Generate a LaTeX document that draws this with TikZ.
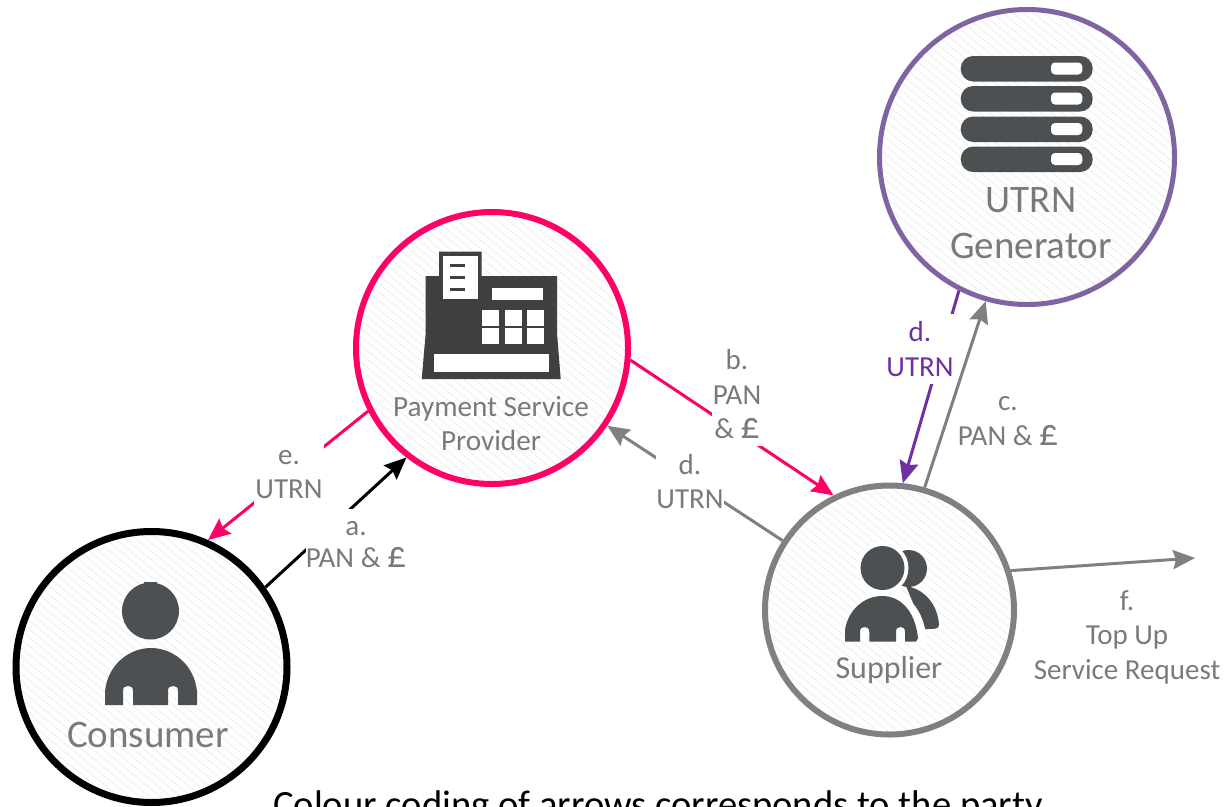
\documentclass[tikz,border=0pt]{standalone}
\usepackage{fontspec}
\setmainfont{Carlito}[Numbers=Lining]
\usetikzlibrary{arrows.meta}
\definecolor{txtgray}{HTML}{7A7A7A}
\definecolor{icongray}{HTML}{4D5052}
\definecolor{tillgray}{HTML}{404040}
\definecolor{linegray}{HTML}{808080}
\definecolor{pspink}{HTML}{FF0066}
\definecolor{utrnpurple}{HTML}{8064A2}
\definecolor{arrowpurple}{HTML}{7030A0}
\newcommand{\bigpound}{\scalebox{1.3}{£}}
\tikzset{
  party/.style={circle,draw=#1,fill=white,inner sep=0pt,path picture={
    \foreach \i in {-40,...,40}
      \draw[gray!12,line width=.9pt] ([shift={(-200,\i*8.5)}]path picture bounding box.center) -- ++(400,330);}},
  conn/.style={draw=#1,line width=3pt,-{Stealth[length=22pt,width=19pt,inset=3pt]}},
  lab/.style={fill=white,inner sep=0pt,align=center,text=txtgray,font=\fontsize{29}{34.5}\selectfont},
  nam/.style={inner sep=0pt,align=center,text=txtgray},
}
\begin{document}
\begin{tikzpicture}[x=1pt,y=-1pt]
\useasboundingbox (0,0) rectangle (1225,806);
% parties
\node[party=black,line width=7pt,minimum size=271pt] (consumer) at (151.5,667) {};
\node[party=pspink,line width=6pt,minimum size=272pt] (psp) at (492,348) {};
\node[party=utrnpurple,line width=5pt,minimum size=295pt] (utrn) at (1027,157) {};
\node[party=linegray,line width=6pt,minimum size=249pt] (supplier) at (889.5,610) {};
\coordinate (request) at (1195,558);
% connectors
\draw[conn=black] (consumer.35) -- (psp.232);
\draw[conn=pspink] (psp.207) -- (consumer.66);
\draw[conn=pspink] (psp.-5) -- (supplier.116);
\draw[conn=linegray] (supplier.147) -- (psp.-34);
\draw[conn=arrowpurple] (utrn.243) -- (supplier.84);
\draw[conn=linegray] (supplier.74) -- (utrn.254);
\draw[conn=linegray] (supplier.18) -- (request);
% connector labels
\node[lab,minimum width=100pt,minimum height=72pt,font=\fontsize{29}{32}\selectfont] (la) at (356,544.5) {a.\\PAN \& \bigpound};
\node[lab,minimum width=70pt,minimum height=64pt] (le) at (289,474.5) {e.\\UTRN};
\node[lab,minimum width=50pt,minimum height=102pt] (lb) at (737,394.5) {b.\\PAN\\\& \bigpound};
\node[lab,minimum width=66pt,minimum height=58pt] (ld1) at (690,481.5) {d.\\UTRN};
\node[lab,minimum width=68pt,minimum height=70pt] (ld2) at (920,349) {\textcolor{arrowpurple}{d.}\\\textcolor{arrowpurple}{UTRN}};
\node[lab,fill=none] (lc) at (1008,421) {c.\\PAN \& \bigpound};
\node[lab,fill=none] (lf) at (1127,637) {f.\\Top Up\\Service Request};
% party names
\node[nam,font=\fontsize{39}{44}\selectfont] (nconsumer) at (148,735) {Consumer};
\node[nam,font=\fontsize{29.2}{34}\selectfont] (npsp) at (491,424) {Payment Service\\Provider};
\node[nam,font=\fontsize{39}{46}\selectfont] (nutrn) at (1031,223) {UTRN\\Generator};
\node[nam,font=\fontsize{32}{36}\selectfont] (nsupplier) at (889,670) {Supplier};
% consumer icon
\fill[icongray] (150.5,611) circle[radius=28.5];
\fill[icongray] (144,582) rectangle (157,586);
\fill[icongray] (105,705) -- (105,692) .. controls (107,666) and (128,648) .. (151,648)
  .. controls (174,648) and (195,666) .. (197,692) -- (197,705) -- (178,705) -- (178,691)
  .. controls (178,687) and (176,686) .. (173,686) .. controls (170,686) and (168,687) .. (168,691) -- (168,705) -- (133,705) -- (133,691)
  .. controls (133,687) and (131,686) .. (128,686) .. controls (125,686) and (123,687) .. (123,691) -- (123,705) -- cycle;
% till icon
\fill[tillgray] (425.7,276) -- (439,276) -- (439,251.7) -- (481.7,251.7) -- (481.7,276) -- (557,276) -- (557,333) -- (560.7,379) -- (421.7,379) -- (425.7,333) -- cycle;
\fill[white] (443,256) rectangle (477.7,299.3);
\fill[tillgray] (450,263.5) rectangle (465,266.5);
\fill[tillgray] (450,275.8) rectangle (465,278.8);
\fill[tillgray] (450,287.8) rectangle (465,290.8);
\fill[white] (491.7,288.3) rectangle (543.3,300);
\foreach \kx in {482.3,505,527.3} \foreach \ky in {310,328.3}
  \fill[white] (\kx,\ky) rectangle ++(16.7,16);
\fill[white] (434,354) rectangle (549,371.7);
% server icon
\foreach \sy in {56,86,116.5,146.5} {
  \fill[icongray,rounded corners=12.5pt] (960.7,\sy) rectangle (1092.7,\sy+25.5);
  \fill[white,rounded corners=4pt] (1051,\sy+6.5) rectangle (1082.3,\sy+18.5);
}
% supplier icon
\fill[icongray] (908.5,568.5) circle[radius=18.5];
\fill[icongray] (906,586) .. controls (928,590) and (938,608) .. (939,625) .. controls (939,629) and (934,629) .. (928,629) -- (918,629) -- (916,610) -- cycle;
\fill[white] (882.5,568) circle[radius=26];
\fill[white] (882,643) -- (850,630) .. controls (852,608) and (866,590) .. (882,590) .. controls (908,590) and (925,610) .. (927,643) -- cycle;
\fill[icongray] (882.5,568) circle[radius=22];
\fill[icongray] (845,641.7) -- (845,630) .. controls (848,610) and (864,596) .. (882,596) .. controls (900,596) and (915,610) .. (918,638) -- (916,641.7) -- (905,641.7) -- (905,632)
  .. controls (905,628) and (903,627) .. (900.5,627) .. controls (898,627) and (896,628) .. (896,632) -- (896,641.7) -- (869.3,641.7) -- (869.3,632)
  .. controls (869.3,628) and (867,627) .. (864.6,627) .. controls (862,627) and (860,628) .. (860,632) -- (860,641.7) -- cycle;
% caption
\node[inner sep=0pt,anchor=base,font=\fontsize{38.6}{44}\selectfont] (caption) at (658,817) {Colour coding of arrows corresponds to the party};
\end{tikzpicture}
\end{document}
